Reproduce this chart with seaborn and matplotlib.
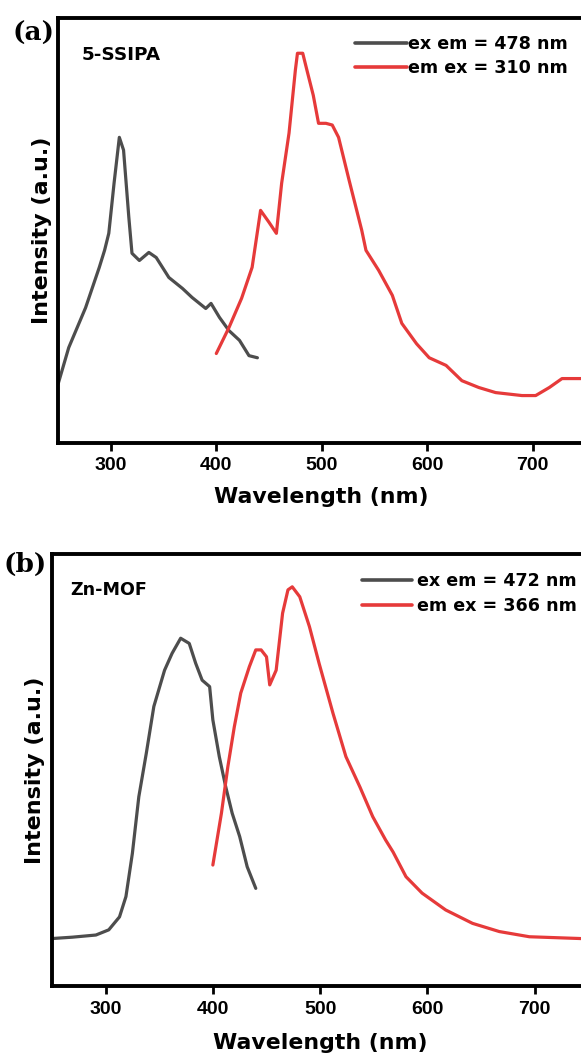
import matplotlib
matplotlib.use("Agg")
import matplotlib.pyplot as plt
import numpy as np
import pandas as pd
import seaborn as sns

# ---------------- data ----------------
xtick_vals = [300, 400, 500, 600, 700]
xtick_labels = ["300", "400", "500", "600", "700"]

# (a) 5-SSIPA : excitation (gray), emission (red)
ex_a_nm = [250, 260, 276, 289, 294, 298, 303, 308, 312, 317, 320, 327, 336, 343,
           355, 368, 377, 390, 395, 403, 412, 422, 431, 439]
ex_a_int = [0.139, 0.224, 0.318, 0.413, 0.453, 0.493, 0.611, 0.719, 0.689, 0.531,
            0.446, 0.429, 0.448, 0.436, 0.389, 0.363, 0.342, 0.316, 0.328, 0.295,
            0.264, 0.241, 0.205, 0.200]
em_a_nm = [400, 412, 424, 434, 442, 450, 457, 462, 469, 475, 477, 482, 486, 492,
           497, 504, 510, 516, 526, 538, 542, 554, 567, 576, 590, 602, 618, 633,
           649, 665, 690, 703, 716, 728, 744, 750]
em_a_int = [0.210, 0.271, 0.340, 0.413, 0.547, 0.519, 0.493, 0.611, 0.729, 0.877,
            0.917, 0.917, 0.877, 0.818, 0.752, 0.752, 0.748, 0.719, 0.618, 0.500,
            0.453, 0.406, 0.347, 0.281, 0.233, 0.200, 0.182, 0.146, 0.130, 0.118,
            0.111, 0.111, 0.130, 0.151, 0.151, 0.151]

# (b) Zn-MOF : excitation (gray), emission (red)
ex_b_nm = [251, 269, 291, 303, 313, 319, 325, 331, 338, 345, 355, 362, 370, 378,
           384, 390, 397, 400, 406, 412, 418, 425, 432, 440]
ex_b_int = [0.110, 0.113, 0.118, 0.130, 0.160, 0.207, 0.307, 0.438, 0.539, 0.647,
            0.731, 0.770, 0.805, 0.793, 0.747, 0.708, 0.693, 0.616, 0.531, 0.461,
            0.400, 0.346, 0.276, 0.226]
em_b_nm = [400, 408, 414, 420, 426, 434, 440, 445, 450, 453, 459, 465, 470, 474,
           481, 490, 499, 512, 524, 537, 549, 561, 568, 580, 595, 617, 642, 667,
           695, 741, 750]
em_b_int = [0.280, 0.400, 0.508, 0.600, 0.678, 0.739, 0.778, 0.778, 0.762, 0.697,
            0.731, 0.863, 0.917, 0.924, 0.901, 0.832, 0.747, 0.631, 0.531, 0.461,
            0.392, 0.338, 0.310, 0.253, 0.215, 0.176, 0.145, 0.126, 0.114, 0.110,
            0.109]

legend_a = ["ex em = 478 nm", "em ex = 310 nm"]
legend_b = ["ex em = 472 nm", "em ex = 366 nm"]
panel_tags = ["(a)", "(b)"]
sample_names = ["5-SSIPA", "Zn-MOF"]

# ---------------- styling ----------------
sns.set_theme(style="white")
plt.rcParams["font.family"] = ["DejaVu Sans"]
plt.rcParams["font.weight"] = "bold"
plt.rcParams["text.color"] = "black"
plt.rcParams["axes.labelcolor"] = "black"

GRAY = "#4d4d4d"
RED = "#e63a3a"
W, H = 581, 1059

fig = plt.figure(figsize=(W / 100, H / 100), dpi=100)


def px_rect(left, top, right, bottom):
    return [left / W, 1 - bottom / H, (right - left) / W, (bottom - top) / H]


ax_a = fig.add_axes(px_rect(58.2, 18, 585.2, 442.7))
ax_b = fig.add_axes(px_rect(51.9, 554, 588.4, 986))


def draw(ax, ex_x, ex_y, em_x, em_y, labels):
    df_ex = pd.DataFrame({"Wavelength": ex_x, "Intensity": ex_y})
    df_em = pd.DataFrame({"Wavelength": em_x, "Intensity": em_y})
    sns.lineplot(data=df_ex, x="Wavelength", y="Intensity", ax=ax, color=GRAY,
                 linewidth=2.3, label=labels[0])
    sns.lineplot(data=df_em, x="Wavelength", y="Intensity", ax=ax, color=RED,
                 linewidth=2.3, label=labels[1])


def style(ax, xlab_y, ylab_x):
    ax.set_xlim(250, 750)
    ax.set_ylim(0, 1)
    ax.set_yticks([])
    ax.set_xticks(xtick_vals, labels=xtick_labels, fontfamily="Liberation Sans",
                  fontweight="bold", fontsize=14)
    for s in ax.spines.values():
        s.set_visible(True)
        s.set_linewidth(2.8)
        s.set_color("black")
    ax.tick_params(axis="x", bottom=True, direction="out", length=5.5, width=2.0,
                   colors="black", pad=5)
    ax.set_xlabel("Wavelength (nm)", fontsize=15.8, fontweight="bold", color="black")
    ax.set_ylabel("Intensity (a.u.)", fontsize=16, fontweight="bold", color="black")
    ax.xaxis.set_label_coords(0.5, xlab_y)
    ax.yaxis.set_label_coords(ylab_x, 0.5)


draw(ax_a, ex_a_nm, ex_a_int, em_a_nm, em_a_int, legend_a)
draw(ax_b, ex_b_nm, ex_b_int, em_b_nm, em_b_int, legend_b)
style(ax_a, -0.104, -0.0123)
style(ax_b, -0.109, -0.0129)

leg_a = ax_a.legend(loc="upper left", bbox_to_anchor=(355 / W, 1 - 34.8 / H),
                    bbox_transform=fig.transFigure, frameon=False, borderpad=0,
                    borderaxespad=0, handlelength=2.95, handletextpad=0.1,
                    labelspacing=0.36, labelcolor="black",
                    prop={"weight": "bold", "size": 12.6})
leg_b = ax_b.legend(loc="upper left", bbox_to_anchor=(361.7 / W, 1 - 572.5 / H),
                    bbox_transform=fig.transFigure, frameon=False, borderpad=0,
                    borderaxespad=0, handlelength=2.85, handletextpad=0.29,
                    labelspacing=0.36, labelcolor="black",
                    prop={"weight": "bold", "size": 12.6})
for leg in (leg_a, leg_b):
    for ln in leg.get_lines():
        ln.set_linewidth(2.6)

fig.text(12.7 / W, 1 - 20.5 / H, panel_tags[0], fontfamily="DejaVu Serif",
         fontweight="bold", fontsize=19, ha="left", va="top", color="black")
fig.text(3.3 / W, 1 - 552 / H, panel_tags[1], fontfamily="DejaVu Serif",
         fontweight="bold", fontsize=19, ha="left", va="top", color="black")
fig.text(81.7 / W, 1 - 46 / H, sample_names[0], fontsize=13.2, fontweight="bold",
         ha="left", va="top", color="black")
fig.text(70 / W, 1 - 581 / H, sample_names[1], fontsize=12.6, fontweight="bold",
         ha="left", va="top", color="black")

fig.savefig("out.png", dpi=100)
